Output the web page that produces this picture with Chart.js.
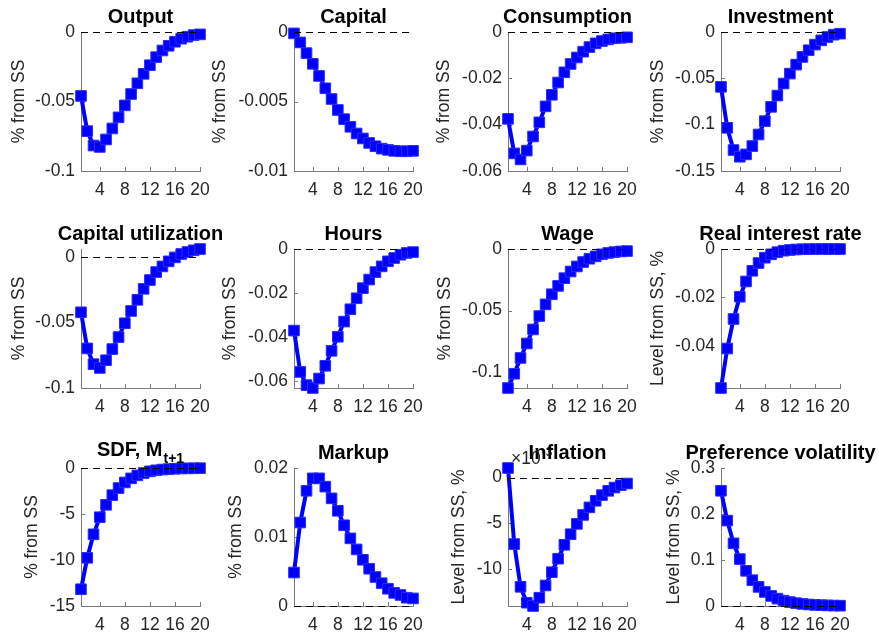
<!DOCTYPE html>
<html><head><meta charset="utf-8">
<script src="https://cdn.jsdelivr.net/npm/chart.js@4/dist/chart.umd.min.js"></script>
<style>
html,body{margin:0;padding:0;background:#fff;width:879px;height:636px;overflow:hidden;position:relative}
canvas{position:absolute}
</style></head><body>
<script>
// ---------------- data ----------------
const periods = [1,2,3,4,5,6,7,8,9,10,11,12,13,14,15,16,17,18,19,20];
const xTicks = [4,8,12,16,20];

const titles = ['Output','Capital','Consumption','Investment','Capital utilization','Hours','Wage','Real interest rate','SDF, M','Markup','Inflation','Preference volatility'];
const titleSubs = ['','','','','','','','','t+1','','',''];
const yLabels = ['% from SS','% from SS','% from SS','% from SS','% from SS','% from SS','% from SS','Level from SS, %','% from SS','% from SS','Level from SS, %','Level from SS, %'];

const outputIRF = [-0.046,-0.0713,-0.0817,-0.0827,-0.0773,-0.0694,-0.0614,-0.0528,-0.0446,-0.0369,-0.0301,-0.0239,-0.0181,-0.0133,-0.0099,-0.0070,-0.0048,-0.0034,-0.0022,-0.0017];
const capitalIRF = [-0.0001,-0.00075,-0.00152,-0.00229,-0.00316,-0.00405,-0.00482,-0.00561,-0.00627,-0.00682,-0.0073,-0.00766,-0.00798,-0.00822,-0.00839,-0.00848,-0.00855,-0.00858,-0.00858,-0.00855];
const consumptionIRF = [-0.0375,-0.0524,-0.0550,-0.0512,-0.0451,-0.0390,-0.0321,-0.0271,-0.0218,-0.0174,-0.0138,-0.0110,-0.0085,-0.0065,-0.0049,-0.0039,-0.0032,-0.0027,-0.0025,-0.0023];
const investmentIRF = [-0.0592,-0.1034,-0.1274,-0.1346,-0.1321,-0.1231,-0.1106,-0.0962,-0.0808,-0.0686,-0.0556,-0.0449,-0.0352,-0.0269,-0.0197,-0.0136,-0.0090,-0.0054,-0.0029,-0.0018];
const capUtilIRF = [-0.0422,-0.0698,-0.0818,-0.0847,-0.0788,-0.0703,-0.0611,-0.0506,-0.0412,-0.0327,-0.0243,-0.0176,-0.0115,-0.0072,-0.0033,-0.0003,0.0023,0.0038,0.0051,0.0061];
const hoursIRF = [-0.0371,-0.0559,-0.0619,-0.0632,-0.0589,-0.0531,-0.0463,-0.0399,-0.0330,-0.0274,-0.0224,-0.0178,-0.0139,-0.0105,-0.0079,-0.0056,-0.0041,-0.0026,-0.0018,-0.0014];
const wageIRF = [-0.113,-0.1014,-0.0886,-0.0768,-0.0654,-0.0545,-0.0450,-0.0368,-0.0300,-0.0237,-0.0183,-0.0142,-0.0106,-0.0079,-0.0060,-0.0043,-0.0032,-0.0025,-0.0020,-0.0017];
const realRateIRF = [-0.0574,-0.0411,-0.0289,-0.0197,-0.0134,-0.0090,-0.0058,-0.0036,-0.0022,-0.0013,-0.0007,-0.0004,-0.0002,-0.0001,-0.00006,-0.00003,-0.00002,-0.00001,-0.00001,0];
const sdfIRF = [-13.18,-9.76,-7.21,-5.35,-4.00,-2.95,-2.18,-1.57,-1.13,-0.80,-0.55,-0.36,-0.25,-0.17,-0.12,-0.08,-0.05,-0.04,-0.03,-0.02];
const markupIRF = [0.00485,0.0121,0.0167,0.0185,0.0185,0.0173,0.0156,0.0138,0.0117,0.0098,0.0082,0.0067,0.0054,0.0042,0.0033,0.0025,0.0019,0.0016,0.0012,0.0011];
const inflationIRF = [1.05,-7.28,-11.96,-13.70,-14.06,-13.15,-11.81,-10.36,-8.88,-7.36,-6.20,-5.07,-4.09,-3.26,-2.54,-1.92,-1.45,-1.09,-0.83,-0.65]; // x 10^-3
const prefVolIRF = [0.2505,0.1857,0.1362,0.1020,0.0765,0.0561,0.0415,0.0306,0.0219,0.0160,0.0117,0.0085,0.0062,0.0045,0.0033,0.0024,0.0018,0.0013,0.0009,0.0007];

const outputTicks = [-0.1,-0.05,0];            const outputTickLabels = ['-0.1','-0.05','0'];
const capitalTicks = [-0.01,-0.005,0];         const capitalTickLabels = ['-0.01','-0.005','0'];
const consumptionTicks = [-0.06,-0.04,-0.02,0]; const consumptionTickLabels = ['-0.06','-0.04','-0.02','0'];
const investmentTicks = [-0.15,-0.1,-0.05,0];  const investmentTickLabels = ['-0.15','-0.1','-0.05','0'];
const capUtilTicks = [-0.1,-0.05,0];           const capUtilTickLabels = ['-0.1','-0.05','0'];
const hoursTicks = [-0.06,-0.04,-0.02,0];      const hoursTickLabels = ['-0.06','-0.04','-0.02','0'];
const wageTicks = [-0.1,-0.05,0];              const wageTickLabels = ['-0.1','-0.05','0'];
const realRateTicks = [-0.04,-0.02,0];         const realRateTickLabels = ['-0.04','-0.02','0'];
const sdfTicks = [-15,-10,-5,0];               const sdfTickLabels = ['-15','-10','-5','0'];
const markupTicks = [0,0.01,0.02];             const markupTickLabels = ['0','0.01','0.02'];
const inflationTicks = [-10,-5,0];             const inflationTickLabels = ['-10','-5','0'];
const prefVolTicks = [0,0.1,0.2,0.3];          const prefVolTickLabels = ['0','0.1','0.2','0.3'];

const outputLim = [-0.1, 0];
const capitalLim = [-0.01, 0];
const consumptionLim = [-0.06, 0];
const investmentLim = [-0.15, 0];
const capUtilLim = [-0.1, 0.0061];
const hoursLim = [-0.0632, 0];
const wageLim = [-0.113, 0];
const realRateLim = [-0.0574, 0];
const sdfLim = [-15, 0];
const markupLim = [0, 0.02];
const inflationLim = [-14.06, 1.05];
const prefVolLim = [0, 0.3];

// ---------------- build table ----------------
const series = [outputIRF,capitalIRF,consumptionIRF,investmentIRF,capUtilIRF,hoursIRF,wageIRF,realRateIRF,sdfIRF,markupIRF,inflationIRF,prefVolIRF];
const tickVals = [outputTicks,capitalTicks,consumptionTicks,investmentTicks,capUtilTicks,hoursTicks,wageTicks,realRateTicks,sdfTicks,markupTicks,inflationTicks,prefVolTicks];
const tickLbls = [outputTickLabels,capitalTickLabels,consumptionTickLabels,investmentTickLabels,capUtilTickLabels,hoursTickLabels,wageTickLabels,realRateTickLabels,sdfTickLabels,markupTickLabels,inflationTickLabels,prefVolTickLabels];
const lims = [outputLim,capitalLim,consumptionLim,investmentLim,capUtilLim,hoursLim,wageLim,realRateLim,sdfLim,markupLim,inflationLim,prefVolLim];
const exponents = ['','','','','','','','','','','-3',''];

// ---------------- layout (style only) ----------------
const colLeft = [81, 294, 508, 721];
const rowTop = [32, 249, 468];
const rowH = [139, 139, 138];
const axW = 119;
const ylabelDist = [62,74,64,63, 62,64,63,63, 49,58,49,47];
const FONT = "'Liberation Sans', Arial, Helvetica, sans-serif";
const AX_COLOR = '#7a7a7a';
const TXT = '#262626';

Chart.defaults.font.family = FONT;
Chart.defaults.color = TXT;

const deco = {
  id: 'panelDeco',
  beforeDatasetsDraw(chart, args, o) {
    const ctx = chart.ctx, a = chart.chartArea, xs = chart.scales.x, ys = chart.scales.y;
    ctx.save();
    ctx.strokeStyle = AX_COLOR; ctx.lineWidth = 1; ctx.beginPath();
    xs.ticks.forEach(t => { const px = Math.round(xs.getPixelForValue(t.value)) + 0.5; ctx.moveTo(px, a.bottom); ctx.lineTo(px, a.bottom - 4); });
    ys.ticks.forEach(t => { const py = Math.round(ys.getPixelForValue(t.value)) + 0.5; ctx.moveTo(a.left, py); ctx.lineTo(a.left + 4, py); });
    ctx.stroke();
    ctx.restore();
  },
  afterDatasetsDraw(chart, args, o) {
    const ctx = chart.ctx, a = chart.chartArea, ys = chart.scales.y;
    ctx.save();
    // zero reference line
    const y0 = Math.round(ys.getPixelForValue(0)) + 0.5;
    ctx.strokeStyle = '#000'; ctx.lineWidth = 1; ctx.setLineDash([7, 5]);
    ctx.beginPath(); ctx.moveTo(a.left, y0); ctx.lineTo(a.right, y0); ctx.stroke();
    ctx.setLineDash([]);
    // exponent label
    if (o.exponent) {
      ctx.fillStyle = TXT; ctx.textBaseline = 'alphabetic'; ctx.textAlign = 'left';
      ctx.font = '17.5px ' + FONT;
      const x0 = a.left + 3, yb = a.top - 4;
      ctx.fillText('\u00d710', x0, yb);
      const w = ctx.measureText('\u00d710').width;
      ctx.font = '12px ' + FONT;
      ctx.fillText(o.exponent, x0 + w + 1, yb - 8);
    }
    // title
    ctx.fillStyle = '#000'; ctx.textAlign = 'left'; ctx.textBaseline = 'alphabetic';
    ctx.font = 'bold 20px ' + FONT;
    const wMain = ctx.measureText(o.title).width;
    let wSub = 0;
    if (o.sub) { ctx.font = 'bold 14px ' + FONT; wSub = ctx.measureText(o.sub).width + 1; }
    const cx = (a.left + a.right) / 2;
    const sx = cx - (wMain + wSub) / 2;
    ctx.font = 'bold 20px ' + FONT;
    const base = o.sub ? a.top - 12 : a.top - 9;
    ctx.fillText(o.title, sx, base);
    if (o.sub) { ctx.font = 'bold 14px ' + FONT; ctx.fillText(o.sub, sx + wMain + 1, a.top - 5); }
    ctx.restore();
  }
};

series.forEach((vals, i) => {
  const col = i % 4, row = Math.floor(i / 4);
  const L = colLeft[col], T = rowTop[row], H = rowH[row];
  const padL = 90, padT = 45, padR = 50, padB = 40;
  const cv = document.createElement('canvas');
  cv.width = axW + padL + padR; cv.height = H + padT + padB;
  cv.style.left = (L - padL) + 'px'; cv.style.top = (T - padT) + 'px';
  cv.style.width = cv.width + 'px'; cv.style.height = cv.height + 'px';
  document.body.appendChild(cv);
  const tv = tickVals[i], tl = tickLbls[i];
  new Chart(cv, {
    type: 'line',
    data: { datasets: [{
      data: periods.map((x, k) => ({ x: x, y: vals[k] })),
      borderColor: '#0000ff', backgroundColor: '#0000ff', borderWidth: 4,
      pointStyle: 'rect', pointRadius: 7.5, pointBorderWidth: 1,
      pointBackgroundColor: '#0000ff', pointBorderColor: '#2a2aff',
      tension: 0, clip: false
    }]},
    options: {
      responsive: false, animation: false, devicePixelRatio: 1,
      events: [],
      layout: { padding: { left: 0, top: padT, right: padR, bottom: 0 } },
      plugins: {
        legend: { display: false }, tooltip: { enabled: false },
        panelDeco: { title: titles[i], sub: titleSubs[i], exponent: exponents[i] }
      },
      scales: {
        x: {
          type: 'linear', min: periods[0], max: periods[periods.length - 1],
          grid: { display: false, drawTicks: false }, border: { display: true, color: AX_COLOR, width: 1 },
          ticks: { autoSkip: false, padding: 9, maxRotation: 0, color: TXT, font: { size: 17.5 }, callback: v => String(v) },
          afterBuildTicks: s => { s.ticks = xTicks.map(v => ({ value: v })); },
          afterFit: s => { s.height = padB; }
        },
        y: {
          type: 'linear', min: lims[i][0], max: lims[i][1],
          grid: { display: false, drawTicks: false }, border: { display: true, color: AX_COLOR, width: 1 },
          ticks: { autoSkip: false, padding: 6, color: TXT, font: { size: 17.5 }, callback: (v, idx) => tl[idx] },
          afterBuildTicks: s => { s.ticks = tv.map(v => ({ value: v })); },
          title: { display: true, text: yLabels[i], color: TXT, font: { size: 17.5 }, padding: { top: padL - 10.5 - ylabelDist[i], bottom: 0 } },
          afterFit: s => { s.width = padL; }
        }
      }
    },
    plugins: [deco]
  });
});
</script>
</body></html>
